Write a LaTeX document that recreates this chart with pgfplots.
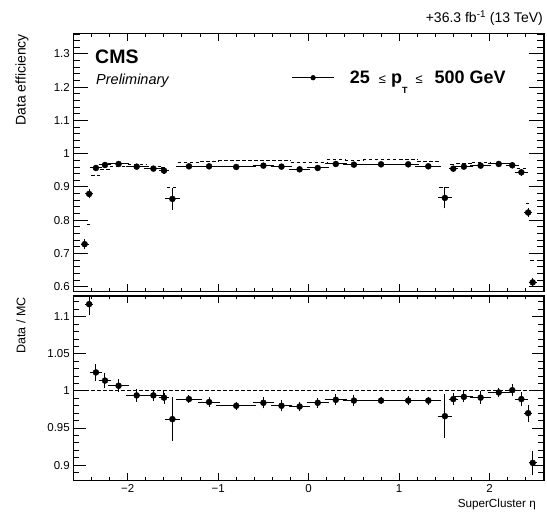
\documentclass[border=0pt]{standalone}
\usepackage{fontspec}
\setmainfont{Liberation Sans}
\usepackage{pgfplots}
\pgfplotsset{compat=1.18}
\usepackage{pgfplotstable}

\pgfplotstableread{
x ex y ey
-2.475 0.025 0.728 0.010
-2.425 0.025 0.879 0.008
-2.35 0.05 0.957 0.004
-2.25 0.05 0.966 0.004
-2.1 0.1 0.969 0.003
-1.9 0.1 0.961 0.003
-1.715 0.085 0.955 0.003
-1.598 0.032 0.949 0.004
-1.5051 0.0609 0.864 0.028
-1.3221 0.1221 0.962 0.002
-1.1 0.1 0.962 0.003
-0.8 0.2 0.960 0.002
-0.5 0.1 0.964 0.003
-0.3 0.1 0.961 0.003
-0.1 0.1 0.953 0.003
0.1 0.1 0.957 0.003
0.3 0.1 0.969 0.003
0.5 0.1 0.967 0.003
0.8 0.2 0.968 0.002
1.1 0.1 0.968 0.003
1.3221 0.1221 0.962 0.002
1.5051 0.0609 0.867 0.026
1.598 0.032 0.955 0.004
1.715 0.085 0.961 0.003
1.9 0.1 0.964 0.003
2.1 0.1 0.969 0.003
2.25 0.05 0.965 0.004
2.35 0.05 0.944 0.005
2.425 0.025 0.823 0.008
2.475 0.025 0.613 0.009
}\effdata

\pgfplotstableread{
x ex y ey
-2.425 0.025 1.117 0.012
-2.35 0.05 1.025 0.009
-2.25 0.05 1.014 0.008
-2.1 0.1 1.007 0.006
-1.9 0.1 0.994 0.006
-1.715 0.085 0.994 0.005
-1.598 0.032 0.991 0.006
-1.5051 0.0609 0.962 0.027
-1.3221 0.1221 0.989 0.003
-1.1 0.1 0.985 0.004
-0.8 0.2 0.980 0.003
-0.5 0.1 0.984 0.005
-0.3 0.1 0.980 0.005
-0.1 0.1 0.979 0.004
0.1 0.1 0.984 0.004
0.3 0.1 0.988 0.005
0.5 0.1 0.987 0.005
0.8 0.2 0.987 0.002
1.1 0.1 0.987 0.004
1.3221 0.1221 0.987 0.003
1.5051 0.0609 0.966 0.027
1.598 0.032 0.989 0.006
1.715 0.085 0.992 0.005
1.9 0.1 0.991 0.006
2.1 0.1 0.998 0.004
2.25 0.05 1.001 0.006
2.35 0.05 0.989 0.007
2.425 0.025 0.970 0.009
2.475 0.025 0.903 0.014
}\ratiodata

\pgfplotstableread{
x y
-2.45 0.787
-2.4 0.934
-2.3 0.953
-2.2 0.962
-2.0 0.967
-1.8 0.961
-1.63 0.958
-1.566 0.898
-1.4442 0.973
-1.2 0.977
-1.0 0.979
-0.6 0.979
-0.4 0.980
-0.2 0.973
0 0.973
0.2 0.981
0.4 0.980
0.6 0.981
1.0 0.981
1.2 0.975
1.4442 0.898
1.566 0.966
1.63 0.969
1.8 0.973
2.0 0.971
2.2 0.964
2.3 0.955
2.4 0.849
2.45 0.678
2.5 0.678
}\mcdata

\pgfplotsset{
  cmsaxis/.style={
    scale only axis,
    width=470.7pt,
    anchor=south west,
    xmin=-2.6, xmax=2.6,
    xtick={-2,-1,0,1,2},
    minor xtick={-2.6,-2.4,-2.2,-1.8,-1.6,-1.4,-1.2,-0.8,-0.6,-0.4,-0.2,0.2,0.4,0.6,0.8,1.2,1.4,1.6,1.8,2.2,2.4,2.6},
    tick align=inside,
    tick pos=both,
    axis line style={line width=1.1pt},
    every tick/.style={black, line width=0.9pt},
    x tick style={/pgfplots/major tick length=7.5pt,/pgfplots/minor tick length=3.5pt},
    tick label style={font=\fontsize{11.5}{13}\selectfont},
    /pgf/number format/assume math mode=true,
    clip=true,
  },
  databars/.style={
    only marks, mark=*, mark size=3pt, black,
    error bars/.cd, x dir=both, x explicit, y dir=both, y explicit,
    error bar style={line width=1pt},
    error mark options={line width=1pt, mark size=1.8pt},
    /pgfplots/.cd,
  },
}

\begin{document}
\begin{tikzpicture}
\useasboundingbox (0pt,0pt) rectangle (547pt,513pt);

% top panel
\begin{axis}[cmsaxis,
  at={(73.3pt,221.3pt)},
  height=258.4pt,
  ymin=0.585, ymax=1.362,
  ytick={0.6,0.7,0.8,0.9,1,1.1,1.2,1.3},
  yticklabels={0.6,0.7,0.8,0.9,1,1.1,1.2,1.3},
  minor ytick={0.6,0.62,...,1.361},
  y tick style={/pgfplots/major tick length=15pt,/pgfplots/minor tick length=7pt},
  xticklabels={},
  legend style={at={(0.464,0.828)}, anchor=west, draw=none, fill=none,
    inner sep=0pt, outer sep=0pt,
    nodes={inner sep=0pt, outer sep=0pt},
    /tikz/every even column/.style={column sep=0pt},
    font=\fontsize{18}{20}\selectfont\bfseries},
]
\addplot[black, line width=1pt, dash pattern=on 3.5pt off 2.5pt, jump mark left, forget plot] table[x=x,y=y]{\mcdata};
\addplot[
  legend image code/.code={
    \draw[line width=1.2pt] (0pt,0pt) -- (41.6pt,0pt);
    \fill (20.8pt,0pt) circle (2.4pt);
    \path[draw=none, fill=none] (57.6pt,0pt) circle (0.01pt);
  }, databars] table[x=x,y=y,x error=ex,y error=ey]{\effdata};
\addlegendentry{25\hspace{9pt}{\mdseries\fontsize{13}{15}\selectfont ≤}\hspace{5pt}p\raisebox{-10pt}{\fontsize{9}{10}\selectfont T}\hspace{8pt}{\mdseries\fontsize{13}{15}\selectfont ≤}\hspace{12pt}500 GeV}
\end{axis}

% ratio panel
\begin{axis}[cmsaxis,
  at={(73.3pt,32.3pt)},
  height=184.7pt,
  ymin=0.879, ymax=1.128,
  ytick={0.9,0.95,1,1.05,1.1},
  yticklabels={0.9,0.95,1,1.05,1.1},
  minor ytick={0.88,0.89,...,1.125},
  y tick style={/pgfplots/major tick length=12.3pt,/pgfplots/minor tick length=5.7pt},
  xticklabels={−2,−1,0,1,2},
]
\addplot[black, line width=1pt, dash pattern=on 3.5pt off 2.5pt, forget plot] coordinates {(-2.6,1) (2.6,1)};
\addplot[databars] table[x=x,y=y,x error=ex,y error=ey]{\ratiodata};
\end{axis}

% texts
\node[anchor=base east, inner sep=0pt, font=\fontsize{14}{16}\selectfont] at (543pt,490pt) {+36.3 fb\textsuperscript{-1} (13 TeV)};
\node[anchor=base west, inner sep=0pt, font=\fontsize{19.5}{22}\selectfont\bfseries] at (95pt,449pt) {CMS};
\node[anchor=base west, inner sep=0pt, font=\fontsize{14.5}{16}\selectfont\itshape] at (96pt,428pt) {Preliminary};
\node[rotate=90, anchor=east, inner sep=0pt, font=\fontsize{14}{16}\selectfont] at (22pt,479pt) {Data efficiency};
\node[rotate=90, anchor=east, inner sep=0pt, font=\fontsize{12.5}{14}\selectfont] at (21pt,216pt) {Data / MC};
\node[anchor=base east, inner sep=0pt, font=\fontsize{11.7}{13}\selectfont] at (536pt,5pt) {SuperCluster η};
\end{tikzpicture}
\end{document}
